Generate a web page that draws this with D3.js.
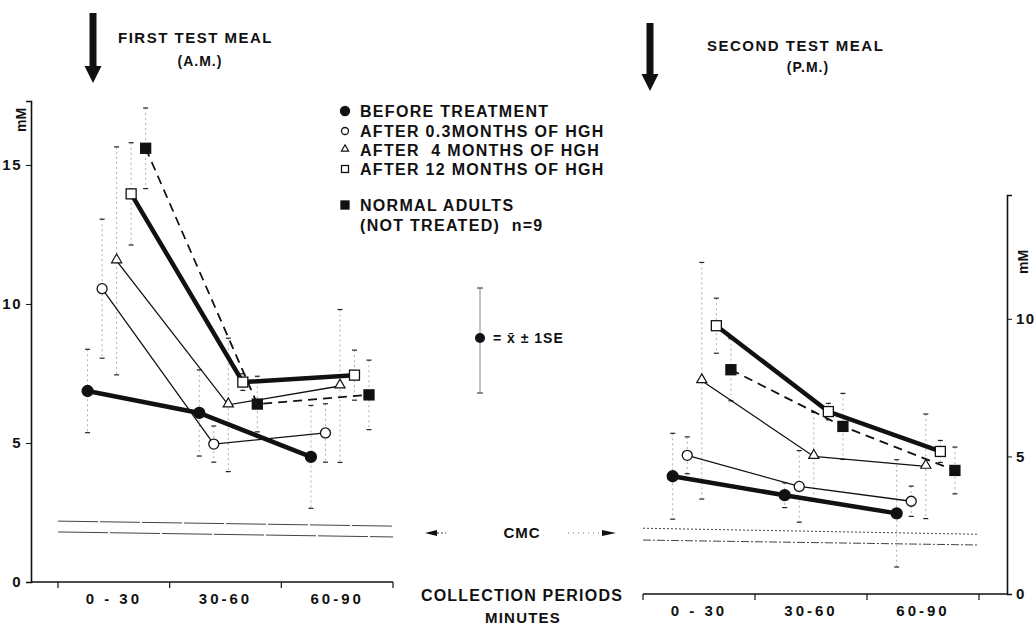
<!DOCTYPE html>
<html>
<head>
<meta charset="utf-8">
<script src="https://cdn.jsdelivr.net/npm/d3@7"></script>
<style>
  body { margin: 0; background: #fff; }
  text { font-family: "Liberation Sans", Arial, sans-serif; font-weight: bold; fill: #111; }
</style>
</head>
<body>
<svg id="chart" width="1035" height="633"></svg>
<script>
// collection periods (minutes)
const periods = ["0 - 30", "30-60", "60-90"];
const seriesNames = ["before", "m03", "m4", "m12", "normal"];
const legendLabels = ["BEFORE TREATMENT", "AFTER 0.3MONTHS OF HGH", "AFTER  4 MONTHS OF HGH", "AFTER 12 MONTHS OF HGH"];
const yTicksLeft = [0, 5, 10, 15];
const yTicksRight = [0, 5, 10];

// first test meal (A.M.), mM
const amBefore = [6.87, 6.08, 4.5];
const amBeforeSE = [1.5, 1.55, 1.85];
const am03 = [10.55, 4.96, 5.36];
const am03SE = [2.5, 0.65, 1.05];
const am4 = [11.55, 6.37, 7.05];
const am4SE = [4.1, 2.4, 2.75];
const am12 = [13.96, 7.19, 7.44];
const am12SE = [1.84, 0.3, 0.9];
const amNormal = [15.6, 6.4, 6.73];
const amNormalSE = [1.45, 1.0, 1.25];
const amCmcUpper = [2.19, 2.01];
const amCmcLower = [1.8, 1.62];

// second test meal (P.M.), mM
const pmBefore = [4.28, 3.59, 2.93];
const pmBeforeSE = [1.56, 0.45, 1.95];
const pm03 = [5.04, 3.91, 3.37];
const pm03SE = [0.67, 1.3, 0.55];
const pm4 = [7.75, 5.0, 4.64];
const pm4SE = [4.3, 1.6, 1.9];
const pm12 = [9.75, 6.63, 5.18];
const pm12SE = [1.0, 0.3, 0.4];
const pmNormal = [8.15, 6.09, 4.49];
const pmNormalSE = [1.13, 1.2, 0.85];
const pmCmcUpper = [2.39, 2.17];
const pmCmcLower = [1.96, 1.78];

const svg = d3.select("#chart");

// series styles
const styles = {
    before: { width: 4.5, dash: null, marker: "circle", fill: "#111" },
    m03: { width: 1.3, dash: null, marker: "circle", fill: "#fff" },
    m4: { width: 1.3, dash: null, marker: "triangle", fill: "#fff" },
    m12: { width: 4.5, dash: null, marker: "square", fill: "#fff" },
    normal: { width: 1.8, dash: "9,6", marker: "square", fill: "#111" }
};

function drawMarker(g, type, fill, cx, cy, s) {
    if (type === "circle") {
        g.append("circle").attr("cx", cx).attr("cy", cy).attr("r", s / 2)
            .attr("fill", fill).attr("stroke", "#111").attr("stroke-width", 1.3);
    } else if (type === "square") {
        g.append("rect").attr("x", cx - s / 2).attr("y", cy - s / 2).attr("width", s).attr("height", s)
            .attr("fill", fill).attr("stroke", "#111").attr("stroke-width", 1.3);
    } else {
        const sym = d3.symbol().type(d3.symbolTriangle).size(s * s * 0.45);
        g.append("path").attr("d", sym()).attr("transform", `translate(${cx},${cy - 1})`)
            .attr("fill", fill).attr("stroke", "#111").attr("stroke-width", 1.2);
    }
}

function drawPanel(opt) {
    const g = svg.append("g");
    const x = d3.scaleBand().domain(periods).range(opt.xRange);
    const sub = d3.scalePoint().domain(seriesNames).range([0.265 * x.bandwidth(), 0.785 * x.bandwidth()]);
    const y = d3.scaleLinear().domain([0, opt.yMax]).range(opt.yRange);
    const baseY = opt.yRange[0];

    // y axis
    const yAxis = opt.side === "left" ? d3.axisLeft(y) : d3.axisRight(y);
    g.append("g")
        .attr("transform", `translate(${opt.axisX},0)`)
        .call(yAxis.tickValues(opt.ticks).tickSize(5).tickPadding(opt.side === "left" ? 4 : 4))
        .call(a => a.select(".domain").attr("stroke", "#111").attr("stroke-width", 1.6))
        .call(a => a.selectAll(".tick line").attr("stroke", "#111"))
        .call(a => a.selectAll(".tick text").style("font-size", "15px").style("letter-spacing", "1.5px")
            .attr("fill", "#111"));

    // x axis line with ticks at period boundaries
    const x0 = Math.min(opt.axisX, opt.xRange[0]);
    const x1 = Math.max(opt.axisX, opt.xRange[1]);
    g.append("line").attr("x1", x0).attr("x2", x1).attr("y1", baseY).attr("y2", baseY)
        .attr("stroke", "#111").attr("stroke-width", 1.6);
    const bounds = periods.map(p => x(p)).concat([opt.xRange[1]]);
    g.selectAll(".xt").data(bounds).enter().append("line")
        .attr("x1", d => d).attr("x2", d => d).attr("y1", baseY).attr("y2", baseY + 6)
        .attr("stroke", "#111").attr("stroke-width", 1.2);
    g.append("g")
        .attr("transform", `translate(0,${baseY + 3})`)
        .call(d3.axisBottom(x).tickSize(0).tickPadding(8))
        .call(a => a.select(".domain").remove())
        .call(a => a.selectAll(".tick text").style("font-size", "15px").style("letter-spacing", "3px")
            .attr("fill", "#111"));

    // CMC band lines
    const xs = [x.range()[0], x.range()[1]];
    g.append("path").datum(opt.cmcUpper)
        .attr("d", d3.line().x((d, i) => xs[i]).y(d => y(d)))
        .attr("fill", "none").attr("stroke", "#444").attr("stroke-width", 1)
        .attr("stroke-dasharray", opt.side === "left" ? "40,2" : "2,2");
    g.append("path").datum(opt.cmcLower)
        .attr("d", d3.line().x((d, i) => xs[i]).y(d => y(d)))
        .attr("fill", "none").attr("stroke", "#444").attr("stroke-width", 1)
        .attr("stroke-dasharray", opt.side === "left" ? "50,2" : "8,2,2,2");

    const px = (name, i) => x(periods[i]) + sub(name);

    // error bars
    seriesNames.forEach(name => {
        const vals = opt.data[name], se = opt.se[name];
        vals.forEach((v, i) => {
            const cx = px(name, i);
            g.append("line").attr("x1", cx).attr("x2", cx)
                .attr("y1", y(v + se[i])).attr("y2", y(v - se[i]))
                .attr("stroke", "#999").attr("stroke-width", 0.8).attr("stroke-dasharray", "2,3");
            [v + se[i], v - se[i]].forEach(e => {
                g.append("line").attr("x1", cx - 2.5).attr("x2", cx + 2.5)
                    .attr("y1", y(e)).attr("y2", y(e))
                    .attr("stroke", "#222").attr("stroke-width", 1.2);
            });
        });
    });

    // series lines
    seriesNames.forEach(name => {
        const st = styles[name];
        g.append("path").datum(opt.data[name])
            .attr("d", d3.line().x((d, i) => px(name, i)).y(d => y(d)))
            .attr("fill", "none").attr("stroke", "#111")
            .attr("stroke-width", st.width)
            .attr("stroke-dasharray", st.dash);
    });

    // markers
    seriesNames.forEach(name => {
        const st = styles[name];
        opt.data[name].forEach((v, i) => {
            const size = st.marker === "square" ? 10 : (name === "before" ? 11 : 10);
            drawMarker(g, st.marker, st.fill, px(name, i), y(v), size);
        });
    });
}

drawPanel({
    side: "left", axisX: 31, xRange: [58, 393], yRange: [582, 101], yMax: 17.3, ticks: yTicksLeft,
    data: { before: amBefore, m03: am03, m4: am4, m12: am12, normal: amNormal },
    se: { before: amBeforeSE, m03: am03SE, m4: am4SE, m12: am12SE, normal: amNormalSE },
    cmcUpper: amCmcUpper, cmcLower: amCmcLower
});

drawPanel({
    side: "right", axisX: 1007, xRange: [643, 979], yRange: [594, 195], yMax: 14.5, ticks: yTicksRight,
    data: { before: pmBefore, m03: pm03, m4: pm4, m12: pm12, normal: pmNormal },
    se: { before: pmBeforeSE, m03: pm03SE, m4: pm4SE, m12: pm12SE, normal: pmNormalSE },
    cmcUpper: pmCmcUpper, cmcLower: pmCmcLower
});

// axis unit labels
svg.append("text").attr("transform", "translate(26,120) rotate(-90)")
    .attr("text-anchor", "middle").style("font-size", "14px").text("mM");
svg.append("text").attr("transform", "translate(1028,262) rotate(-90)")
    .attr("text-anchor", "middle").style("font-size", "14px").text("mM");

// meal arrows and titles
function mealArrow(cx, top, tip) {
    svg.append("path")
        .attr("d", `M${cx - 3.5},${top} L${cx + 3.5},${top} L${cx + 3.5},${tip - 17} L${cx + 8.5},${tip - 17} L${cx},${tip} L${cx - 8.5},${tip - 17} L${cx - 3.5},${tip - 17} Z`)
        .attr("fill", "#111");
}
mealArrow(93, 13, 83);
mealArrow(650, 23, 91);

svg.append("text").attr("x", 118).attr("y", 43).style("font-size", "15px").style("letter-spacing", "1.5px")
    .text("FIRST TEST MEAL");
svg.append("text").attr("x", 200).attr("y", 66).attr("text-anchor", "middle").style("font-size", "14px")
    .style("letter-spacing", "1px").text("(A.M.)");
svg.append("text").attr("x", 707).attr("y", 51).style("font-size", "15px").style("letter-spacing", "1.5px")
    .text("SECOND TEST MEAL");
svg.append("text").attr("x", 808).attr("y", 72).attr("text-anchor", "middle").style("font-size", "14px")
    .style("letter-spacing", "1px").text("(P.M.)");

// legend
const legendRows = [111, 131, 150, 169];
const legendMarkers = [["circle", "#111"], ["circle", "#fff"], ["triangle", "#fff"], ["square", "#fff"]];
legendLabels.forEach((lab, i) => {
    const lg = svg.append("g");
    drawMarker(lg, legendMarkers[i][0], legendMarkers[i][1], 345, legendRows[i], i === 0 ? 9 : 7);
    svg.append("text").attr("x", 360).attr("y", legendRows[i] + 6)
        .style("font-size", "16px").style("letter-spacing", "1.3px").style("white-space", "pre").text(lab);
});
drawMarker(svg.append("g"), "square", "#111", 345, 205, 8);
svg.append("text").attr("x", 360).attr("y", 211).style("font-size", "16px").style("letter-spacing", "1.3px")
    .text("NORMAL ADULTS");
svg.append("text").attr("x", 360).attr("y", 231).style("font-size", "16px").style("letter-spacing", "1.3px")
    .style("white-space", "pre").text("(NOT TREATED)  n=9");

// SE key
svg.append("line").attr("x1", 480).attr("x2", 480).attr("y1", 288).attr("y2", 393)
    .attr("stroke", "#888").attr("stroke-width", 1);
svg.append("line").attr("x1", 477).attr("x2", 483).attr("y1", 288).attr("y2", 288).attr("stroke", "#222");
svg.append("line").attr("x1", 477).attr("x2", 483).attr("y1", 393).attr("y2", 393).attr("stroke", "#222");
svg.append("circle").attr("cx", 480).attr("cy", 338).attr("r", 5).attr("fill", "#111");
svg.append("text").attr("x", 493).attr("y", 343).style("font-size", "14px").style("letter-spacing", "1px")
    .style("white-space", "pre").text("= x\u0304 \u00b1 1SE");

// CMC annotation
svg.append("text").attr("x", 522).attr("y", 538).attr("text-anchor", "middle").style("font-size", "15px")
    .style("letter-spacing", "1px").text("CMC");
svg.append("path").attr("d", "M425,533 L437,530 L437,536 Z").attr("fill", "#111");
svg.append("line").attr("x1", 437).attr("x2", 446).attr("y1", 533).attr("y2", 533)
    .attr("stroke", "#333").attr("stroke-dasharray", "2,2");
svg.append("line").attr("x1", 568).attr("x2", 602).attr("y1", 533).attr("y2", 533)
    .attr("stroke", "#777").attr("stroke-dasharray", "1,4");
svg.append("path").attr("d", "M616,533 L602,530 L602,536 Z").attr("fill", "#111");

// x axis title
svg.append("text").attr("x", 522).attr("y", 601).attr("text-anchor", "middle").style("font-size", "16px")
    .style("letter-spacing", "1.2px").text("COLLECTION PERIODS");
svg.append("text").attr("x", 523).attr("y", 623).attr("text-anchor", "middle").style("font-size", "15px")
    .style("letter-spacing", "1.2px").text("MINUTES");
</script>
</body>
</html>
